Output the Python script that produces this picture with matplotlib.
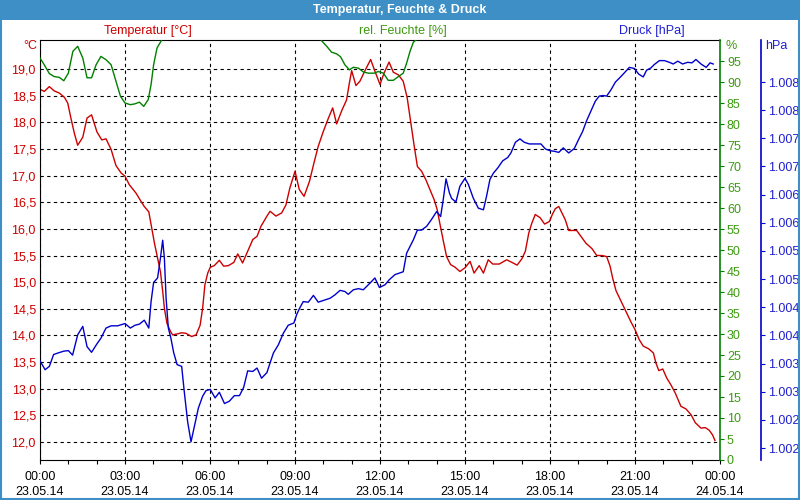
import numpy as np
import matplotlib.pyplot as plt
from matplotlib.patches import Rectangle

plt.rcParams['font.family'] = ['Liberation Sans', 'DejaVu Sans']

# time in hours after 23.05.14 00:00
temp_h = [0.0, 0.15, 0.33, 0.5, 0.68, 0.86, 0.98, 1.09, 1.21, 1.33, 1.51, 1.66, 1.82, 2.01, 2.18,
          2.33, 2.51, 2.68, 2.86, 3.0, 3.15, 3.39, 3.56, 3.68, 3.84, 3.92, 4.04, 4.15, 4.25, 4.33,
          4.39, 4.48, 4.6, 4.68, 4.86, 5.0, 5.15, 5.35, 5.51, 5.65, 5.74, 5.82, 5.92, 6.01, 6.15,
          6.33, 6.48, 6.65, 6.84, 6.98, 7.15, 7.33, 7.51, 7.66, 7.8, 8.01, 8.12, 8.33, 8.53, 8.68,
          8.82, 9.0, 9.15, 9.32, 9.51, 9.67, 9.82, 10.0, 10.18, 10.33, 10.47, 10.65, 10.82, 10.92,
          11.0, 11.15, 11.29, 11.47, 11.67, 11.82, 12.0, 12.14, 12.32, 12.47, 12.65, 12.82, 12.96,
          13.08, 13.2, 13.32, 13.47, 13.62, 13.76, 13.91, 14.02, 14.12, 14.24, 14.35, 14.49, 14.65,
          14.82, 15.0, 15.18, 15.32, 15.5, 15.65, 15.82, 15.98, 16.21, 16.47, 16.66, 16.84, 17.01,
          17.13, 17.25, 17.36, 17.48, 17.65, 17.81, 17.98, 18.09, 18.19, 18.31, 18.42, 18.54, 18.66,
          18.8, 18.94, 19.09, 19.27, 19.48, 19.65, 19.84, 20.0, 20.12, 20.21, 20.33, 20.51, 20.68,
          20.86, 21.0, 21.15, 21.29, 21.48, 21.65, 21.74, 21.84, 21.98, 22.12, 22.27, 22.42, 22.62,
          22.8, 22.98, 23.13, 23.33, 23.48, 23.62, 23.74, 23.82]
temp = [18.62, 18.58, 18.67, 18.59, 18.55, 18.47, 18.36, 18.08, 17.80, 17.57, 17.72, 18.08, 18.14,
        17.82, 17.67, 17.69, 17.49, 17.19, 17.05, 16.99, 16.83, 16.67, 16.52, 16.42, 16.32, 16.08,
        15.73, 15.45, 15.20, 14.83, 14.51, 14.23, 14.08, 14.01, 14.03, 14.05, 14.04, 13.98, 14.01,
        14.19, 14.51, 14.95, 15.17, 15.28, 15.31, 15.41, 15.30, 15.31, 15.37, 15.53, 15.36, 15.58,
        15.80, 15.86, 16.05, 16.24, 16.33, 16.24, 16.30, 16.45, 16.77, 17.08, 16.74, 16.61, 16.89,
        17.24, 17.55, 17.83, 18.08, 18.27, 17.97, 18.22, 18.42, 18.74, 18.97, 18.69, 18.77, 18.97,
        19.18, 18.96, 18.71, 18.92, 19.13, 18.94, 18.89, 18.77, 18.46, 18.02, 17.58, 17.17, 17.08,
        16.92, 16.74, 16.55, 16.36, 16.08, 15.76, 15.48, 15.33, 15.28, 15.20, 15.27, 15.39, 15.17,
        15.31, 15.17, 15.42, 15.34, 15.34, 15.42, 15.37, 15.32, 15.44, 15.58, 15.92, 16.11, 16.27,
        16.21, 16.09, 16.14, 16.28, 16.38, 16.42, 16.30, 16.17, 15.97, 15.97, 15.97, 15.86, 15.73,
        15.63, 15.50, 15.50, 15.48, 15.30, 15.08, 14.84, 14.64, 14.45, 14.25, 14.11, 13.92, 13.80,
        13.75, 13.67, 13.48, 13.34, 13.37, 13.20, 13.07, 12.92, 12.67, 12.62, 12.51, 12.36, 12.26,
        12.27, 12.22, 12.13, 12.03]

hum_h = [0.0, 0.15, 0.33, 0.5, 0.68, 0.84, 1.0, 1.16, 1.33, 1.51, 1.66, 1.82, 1.98, 2.15, 2.33,
         2.51, 2.68, 2.84, 3.0, 3.19, 3.35, 3.51, 3.66, 3.82, 3.92, 4.01, 4.13, 4.27, 4.4,
         7.0,
         9.85, 9.94, 10.12, 10.29, 10.47, 10.61, 10.76, 10.92, 11.06, 11.24, 11.41, 11.59, 11.79,
         11.94, 12.12, 12.29, 12.47, 12.65, 12.82, 12.94, 13.06, 13.18, 13.29, 13.38]
hum = [95.7, 94.1, 92.0, 91.3, 91.1, 90.3, 92.1, 97.3, 98.5, 95.7, 91.0, 91.0, 94.1, 96.1, 95.3,
       94.1, 90.2, 86.6, 85.0, 84.6, 84.8, 85.2, 84.2, 85.8, 89.4, 94.1, 98.1, 99.7, 101.5,
       np.nan,
       101.0, 99.8, 98.5, 97.1, 96.7, 96.0, 94.1, 92.9, 93.5, 93.3, 92.4, 92.1, 92.1,
       92.5, 92.1, 90.4, 90.4, 91.3, 92.1, 94.5, 97.3, 99.5, 100.1, 101.5]

pres_h = [0.0, 0.18, 0.33, 0.48, 0.65, 0.84, 1.0, 1.15, 1.33, 1.51, 1.66, 1.82, 2.01, 2.15, 2.33,
          2.51, 2.74, 3.0, 3.19, 3.35, 3.51, 3.68, 3.84, 3.92, 4.01, 4.15, 4.25, 4.33, 4.39, 4.45,
          4.53, 4.62, 4.72, 4.84, 5.0, 5.09, 5.21, 5.33, 5.45, 5.59, 5.74, 5.86, 6.01, 6.18, 6.33,
          6.51, 6.68, 6.86, 7.04, 7.19, 7.33, 7.51, 7.66, 7.82, 8.01, 8.06, 8.24, 8.41, 8.59, 8.76,
          8.96, 9.06, 9.15, 9.29, 9.47, 9.65, 9.82, 10.0, 10.24, 10.41, 10.59, 10.76, 10.88, 11.06,
          11.24, 11.41, 11.65, 11.82, 11.98, 12.18, 12.33, 12.53, 12.71, 12.82, 12.94, 13.06, 13.18,
          13.32, 13.47, 13.65, 13.82, 14.0, 14.14, 14.24, 14.33, 14.45, 14.53, 14.68, 14.82, 15.0,
          15.12, 15.29, 15.47, 15.65, 15.76, 15.88, 16.0, 16.15, 16.33, 16.51, 16.62, 16.78, 16.94,
          17.09, 17.27, 17.51, 17.68, 17.84, 18.0, 18.15, 18.31, 18.47, 18.66, 18.86, 19.01, 19.15,
          19.29, 19.45, 19.6, 19.74, 19.88, 20.0, 20.15, 20.31, 20.47, 20.62, 20.8, 20.98, 21.13,
          21.29, 21.41, 21.56, 21.68, 21.86, 22.04, 22.21, 22.35, 22.51, 22.68, 22.86, 23.01, 23.15,
          23.33, 23.51, 23.65, 23.76]
pres = [1003.05, 1002.89, 1002.95, 1003.16, 1003.19, 1003.22, 1003.23, 1003.15, 1003.51, 1003.66,
        1003.30, 1003.20, 1003.35, 1003.45, 1003.63, 1003.67, 1003.67, 1003.71, 1003.63, 1003.68,
        1003.70, 1003.77, 1003.63, 1004.10, 1004.44, 1004.52, 1004.87, 1005.19, 1004.87, 1004.16,
        1003.63, 1003.45, 1003.19, 1002.98, 1002.95, 1002.51, 1001.97, 1001.61, 1001.89, 1002.21,
        1002.42, 1002.52, 1002.54, 1002.39, 1002.49, 1002.29, 1002.33, 1002.43, 1002.43, 1002.58,
        1002.87, 1002.86, 1002.92, 1002.74, 1002.84, 1002.92, 1003.19, 1003.33, 1003.54, 1003.68,
        1003.72, 1003.87, 1003.97, 1004.10, 1004.09, 1004.21, 1004.09, 1004.12, 1004.16, 1004.22,
        1004.30, 1004.28, 1004.23, 1004.31, 1004.33, 1004.31, 1004.43, 1004.52, 1004.35, 1004.40,
        1004.49, 1004.58, 1004.61, 1004.63, 1004.96, 1005.08, 1005.20, 1005.37, 1005.37, 1005.44,
        1005.56, 1005.70, 1005.61, 1005.94, 1006.28, 1006.03, 1005.93, 1005.87, 1006.15, 1006.29,
        1006.18, 1005.94, 1005.76, 1005.73, 1005.97, 1006.27, 1006.38, 1006.47, 1006.60, 1006.66,
        1006.74, 1006.93, 1006.99, 1006.93, 1006.90, 1006.90, 1006.90, 1006.81, 1006.78, 1006.77,
        1006.75, 1006.83, 1006.74, 1006.82, 1006.98, 1007.12, 1007.31, 1007.49, 1007.66, 1007.75,
        1007.76, 1007.75, 1007.86, 1008.00, 1008.08, 1008.16, 1008.26, 1008.24, 1008.14, 1008.09,
        1008.21, 1008.25, 1008.31, 1008.38, 1008.38, 1008.35, 1008.32, 1008.37, 1008.32, 1008.35,
        1008.34, 1008.40, 1008.32, 1008.26, 1008.34, 1008.32]

x_ticks = [0, 3, 6, 9, 12, 15, 18, 21, 24]
x_labels = ['00:00\n23.05.14', '03:00\n23.05.14', '06:00\n23.05.14', '09:00\n23.05.14',
            '12:00\n23.05.14', '15:00\n23.05.14', '18:00\n23.05.14', '21:00\n23.05.14',
            '00:00\n24.05.14']
t_ticks = [12.0, 12.5, 13.0, 13.5, 14.0, 14.5, 15.0, 15.5, 16.0, 16.5, 17.0, 17.5, 18.0, 18.5, 19.0]
t_labels = ['12,0', '12,5', '13,0', '13,5', '14,0', '14,5', '15,0', '15,5', '16,0', '16,5',
            '17,0', '17,5', '18,0', '18,5', '19,0']
h_ticks = [0, 5, 10, 15, 20, 25, 30, 35, 40, 45, 50, 55, 60, 65, 70, 75, 80, 85, 90, 95]
p_ticks = [1001.5, 1002.0, 1002.5, 1003.0, 1003.5, 1004.0, 1004.5, 1005.0, 1005.5, 1006.0,
           1006.5, 1007.0, 1007.5, 1008.0]
p_labels = ['1.002', '1.002', '1.003', '1.003', '1.004', '1.004', '1.005', '1.005', '1.006',
            '1.006', '1.007', '1.007', '1.008', '1.008']

RED = '#cc0000'
GREEN = '#008000'
BLUE = '#0000cc'
BAR = '#3d8fc6'
fs = 9

fig = plt.figure(figsize=(8, 5), dpi=100)
fig.patch.set_facecolor('white')

ax = fig.add_axes([0.05, 0.08, 0.85, 0.84])
ax_h = ax.twinx()
ax_p = ax.twinx()

ax.plot(temp_h, temp, color=RED, lw=1)
ax_h.plot(hum_h, hum, color=GREEN, lw=1)
ax_p.plot(pres_h, pres, color=BLUE, lw=1)

ax.set_xlim(0, 24)
ax.set_ylim(11.662, 19.545)
ax_h.set_ylim(0, 100)
ax_p.set_ylim(1001.287, 1008.746)

ax.set_xticks(x_ticks)
ax.set_xticklabels(x_labels, fontsize=fs, linespacing=1.35)
ax.set_xticks(np.arange(0, 25, 1), minor=True)
ax.tick_params(axis='x', which='both', length=3, width=0.8, direction='out', pad=5)
ax.set_yticks(t_ticks)
ax.set_yticklabels(t_labels, fontsize=fs, color=RED)
ax.tick_params(axis='y', length=0, pad=3)
ax.grid(True, which='major', color='black', lw=0.8, linestyle=(0, (3, 3)))

for s in ['left', 'top', 'bottom']:
    ax.spines[s].set_color('black')
ax.spines['right'].set_visible(False)

ax_h.set_yticks(h_ticks)
ax_h.set_yticklabels([str(v) for v in h_ticks], fontsize=fs, color='#3d9a10')
ax_h.tick_params(axis='y', length=3, width=0.8, color=GREEN, pad=2)
for s in ['left', 'top', 'bottom']:
    ax_h.spines[s].set_visible(False)
ax_h.spines['right'].set_color(GREEN)
ax_h.spines['right'].set_linewidth(1.2)

ax_p.spines['right'].set_position(('axes', 1.0603))
for s in ['left', 'top', 'bottom']:
    ax_p.spines[s].set_visible(False)
ax_p.spines['right'].set_color(BLUE)
ax_p.spines['right'].set_linewidth(1.2)
ax_p.set_yticks(p_ticks)
ax_p.set_yticklabels(p_labels, fontsize=fs, color='#2020d0')
ax_p.tick_params(axis='y', length=3, width=0.8, color=BLUE, pad=2)

# unit labels above each axis
fig.text(37 / 800, 1 - 46 / 500, '°C', color=RED, fontsize=fs, ha='right', va='center')
fig.text(725 / 800, 1 - 46 / 500, '%', color='#3d9a10', fontsize=fs, ha='left', va='center')
fig.text(765 / 800, 1 - 46 / 500, 'hPa', color='#2020d0', fontsize=fs, ha='left', va='center')

# series captions
fig.text(148 / 800, 1 - 31 / 500, 'Temperatur [°C]', color=RED, fontsize=fs, ha='center', va='center')
fig.text(403 / 800, 1 - 31 / 500, 'rel. Feuchte [%]', color='#3d9a10', fontsize=fs, ha='center', va='center')
fig.text(652 / 800, 1 - 31 / 500, 'Druck [hPa]', color='#2020d0', fontsize=fs, ha='center', va='center')

# title bar and frame
fig.patches.append(Rectangle((0, 1 - 20 / 500), 1, 20 / 500, transform=fig.transFigure,
                             facecolor=BAR, edgecolor='none', zorder=0))
fig.patches.append(Rectangle((0.001, 0.002), 0.998, 0.996, transform=fig.transFigure,
                             fill=False, edgecolor=BAR, lw=1.5, zorder=1))
fig.text(0.5, 1 - 10 / 500, 'Temperatur, Feuchte & Druck', color='white', fontsize=fs,
         fontweight='bold', ha='center', va='center')

fig.savefig('out.png', dpi=100)
